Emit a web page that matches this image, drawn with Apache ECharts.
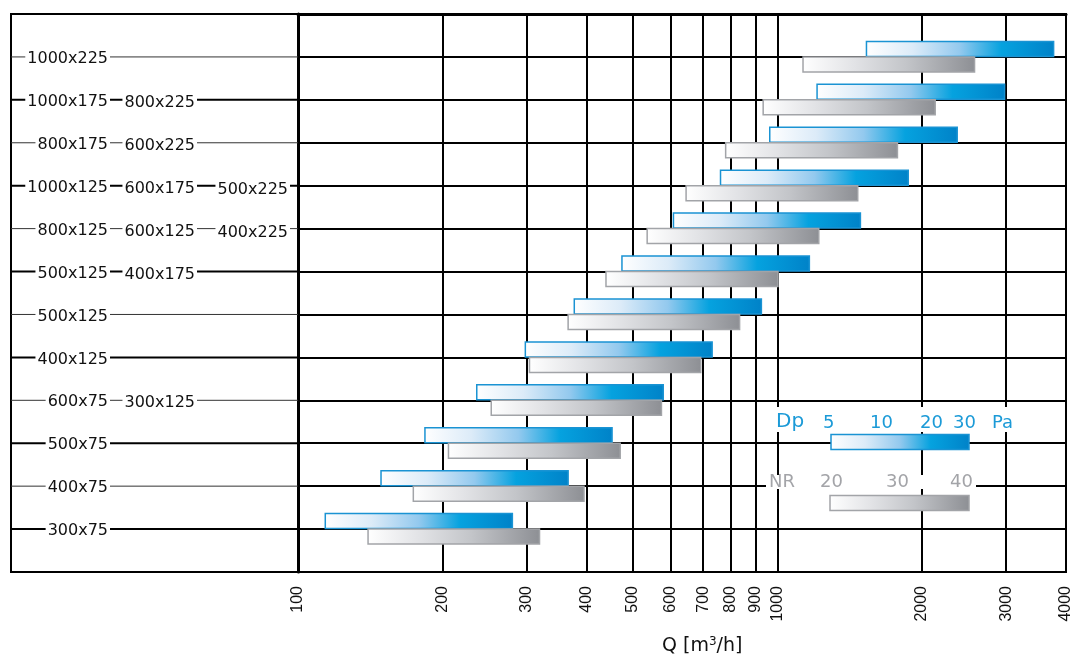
<!DOCTYPE html>
<html>
<head>
<meta charset="utf-8">
<script src="https://cdn.jsdelivr.net/npm/echarts@6/dist/echarts.min.js"></script>
<style>html,body{margin:0;padding:0;background:#fff;}#c{width:1075px;height:656px;}</style>
</head>
<body>
<div id="c"></div>
<script>
// ---- data ----
const rowLabels = [
  ['1000x225'],
  ['1000x175', '800x225'],
  ['800x175', '600x225'],
  ['1000x125', '600x175', '500x225'],
  ['800x125', '600x125', '400x225'],
  ['500x125', '400x175'],
  ['500x125'],
  ['400x125'],
  ['600x75', '300x125'],
  ['500x75'],
  ['400x75'],
  ['300x75']
];
const dpLow  = [1534, 1210, 964, 761, 607, 474, 377, 298, 236, 184, 149, 114];
const dpHigh = [3769, 2978, 2372, 1875, 1490, 1166, 926, 731, 578, 452, 366, 280];
const nrLow  = [1131, 934, 780, 645, 535, 439, 366, 304, 253, 206, 174, 140];
const nrHigh = [2578, 2134, 1780, 1471, 1220, 1003, 834, 692, 573, 470, 395, 319];
const xTicks = [100, 200, 300, 400, 500, 600, 700, 800, 900, 1000, 2000, 3000, 4000];
const dpLegendLabels = ['5', '10', '20', '30'];
const nrLegendLabels = ['20', '30', '40'];

// ---- styles / layout ----
const BAR_H = 15;
const blueFill = {type: 'linear', x: 0, y: 0, x2: 1, y2: 0, colorStops: [
  {offset: 0, color: '#ffffff'}, {offset: 0.25, color: '#dcebf8'}, {offset: 0.5, color: '#93c9ee'},
  {offset: 0.72, color: '#05a2df'}, {offset: 1, color: '#0082c8'}]};
const grayFill = {type: 'linear', x: 0, y: 0, x2: 1, y2: 0, colorStops: [
  {offset: 0, color: '#ffffff'}, {offset: 0.3, color: '#e2e3e6'}, {offset: 0.6, color: '#c3c5c9'},
  {offset: 1, color: '#8d8f94'}]};
const blueStroke = '#1a93d3';
const grayStroke = '#a2a4a8';
const blueText = '#1b9ad7';
const grayText = '#a3a4a8';
const LABEL_RIGHT = [99, 186, 279];
const LABEL_DY = [2, 3, 4];
const LABEL_FONT = '16px "DejaVu Sans"';

function barRender(isBlue) {
  return function (params, api) {
    const r = api.value(0);
    const p0 = api.coord([api.value(1), r]);
    const p1 = api.coord([api.value(2), r]);
    const y = isBlue ? p0[1] - BAR_H - 0.5 : p0[1];
    return {
      type: 'rect',
      shape: {x: p0[0], y: y, width: p1[0] - p0[0], height: BAR_H},
      style: {fill: isBlue ? blueFill : grayFill, stroke: isBlue ? blueStroke : grayStroke, lineWidth: 1.5}
    };
  };
}

const chart = echarts.init(document.getElementById('c'), null, {renderer: 'canvas'});
const option = {
  animation: false,
  backgroundColor: '#fff',
  grid: [
    {left: 298, top: 14, width: 768, height: 558, show: true, borderColor: '#000', borderWidth: 2, containLabel: false},
    {left: 11, top: 14, width: 287, height: 558, show: true, borderColor: '#000', borderWidth: 2, containLabel: false}
  ],
  xAxis: [
    {
      type: 'log', logBase: 10, min: 100, max: 4000, gridIndex: 0,
      axisLine: {show: true, lineStyle: {color: '#000', width: 3}},
      axisTick: {show: false, customValues: xTicks},
      axisLabel: {customValues: xTicks, rotate: 90, margin: 14, color: '#111',
        fontFamily: 'Liberation Sans', fontSize: 16, formatter: v => String(Math.round(v))},
      splitLine: {show: true, lineStyle: {color: '#000', width: 2}}
    },
    {type: 'value', min: 0, max: 287, gridIndex: 1, show: false}
  ],
  yAxis: [
    {
      type: 'value', min: 0, max: 13, interval: 1, inverse: true, gridIndex: 0,
      axisLine: {show: true, lineStyle: {color: '#000', width: 3}},
      axisTick: {show: false}, axisLabel: {show: false},
      splitLine: {show: true, lineStyle: {color: '#000', width: 2}}
    },
    {type: 'value', min: 0, max: 13, inverse: true, gridIndex: 1, show: false}
  ],
  graphic: [
    {type: 'text', left: 662, top: 636, z: 100, style: {
      text: 'Q [m{s|3}/h]', font: '19px "DejaVu Sans"', fill: '#111',
      rich: {s: {fontSize: 12, fontFamily: 'DejaVu Sans', verticalAlign: 'top', padding: [0, 0, 9, 0], fill: '#111'}}}},
    // legend backgrounds
    {type: 'rect', z: 100, shape: {x: 770, y: 407, width: 252, height: 25}, style: {fill: '#fff'}},
    {type: 'rect', z: 100, shape: {x: 766, y: 475, width: 210, height: 14}, style: {fill: '#fff'}},
    // legend bars
    {type: 'rect', z: 101, shape: {x: 831, y: 434.5, width: 138, height: 15}, style: {fill: blueFill, stroke: blueStroke, lineWidth: 1.5}},
    {type: 'rect', z: 101, shape: {x: 830, y: 495.5, width: 139, height: 15}, style: {fill: grayFill, stroke: grayStroke, lineWidth: 1.5}},
    // legend texts
    {type: 'text', z: 102, x: 776, y: 422, style: {text: 'Dp', font: '20px "DejaVu Sans"', fill: blueText, verticalAlign: 'middle'}},
    {type: 'text', z: 102, x: 823, y: 423, style: {text: dpLegendLabels[0], font: '18px "DejaVu Sans"', fill: blueText, verticalAlign: 'middle'}},
    {type: 'text', z: 102, x: 870, y: 423, style: {text: dpLegendLabels[1], font: '18px "DejaVu Sans"', fill: blueText, verticalAlign: 'middle'}},
    {type: 'text', z: 102, x: 920, y: 423, style: {text: dpLegendLabels[2], font: '18px "DejaVu Sans"', fill: blueText, verticalAlign: 'middle'}},
    {type: 'text', z: 102, x: 953, y: 423, style: {text: dpLegendLabels[3], font: '18px "DejaVu Sans"', fill: blueText, verticalAlign: 'middle'}},
    {type: 'text', z: 102, x: 992, y: 423, style: {text: 'Pa', font: '18px "DejaVu Sans"', fill: blueText, verticalAlign: 'middle'}},
    {type: 'text', z: 102, x: 769, y: 482, style: {text: 'NR', font: '18px "DejaVu Sans"', fill: grayText, verticalAlign: 'middle'}},
    {type: 'text', z: 102, x: 820, y: 482, style: {text: nrLegendLabels[0], font: '18px "DejaVu Sans"', fill: grayText, verticalAlign: 'middle'}},
    {type: 'text', z: 102, x: 886, y: 482, style: {text: nrLegendLabels[1], font: '18px "DejaVu Sans"', fill: grayText, verticalAlign: 'middle'}},
    {type: 'text', z: 102, x: 950, y: 482, style: {text: nrLegendLabels[2], font: '18px "DejaVu Sans"', fill: grayText, verticalAlign: 'middle'}}
  ],
  series: [
    {
      type: 'custom', name: 'Dp', xAxisIndex: 0, yAxisIndex: 0, z: 5,
      renderItem: barRender(true),
      encode: {x: [1, 2], y: 0},
      data: dpLow.map((v, i) => [i + 1, v, dpHigh[i]])
    },
    {
      type: 'custom', name: 'NR', xAxisIndex: 0, yAxisIndex: 0, z: 5,
      renderItem: barRender(false),
      encode: {x: [1, 2], y: 0},
      data: nrLow.map((v, i) => [i + 1, v, nrHigh[i]])
    },
    {
      type: 'custom', name: 'sizes', xAxisIndex: 1, yAxisIndex: 1, z: 5,
      renderItem: function (params, api) {
        const r = api.value(0);
        const idx = params.dataIndex;
        const a = api.coord([0, r]);
        const b = api.coord([287, r]);
        const thick = idx % 2 === 1;
        const children = [{
          type: 'line',
          shape: {x1: a[0], y1: a[1], x2: b[0], y2: b[1]},
          style: {stroke: thick ? '#000' : '#333', lineWidth: thick ? 2 : 1}
        }];
        rowLabels[idx].forEach(function (t, c) {
          const p = api.coord([LABEL_RIGHT[c], r]);
          children.push({
            type: 'text', x: p[0], y: p[1] + LABEL_DY[c],
            style: {text: t, align: 'right', verticalAlign: 'middle', font: LABEL_FONT, fill: '#111',
              backgroundColor: '#fff', padding: [0, 2]}
          });
        });
        return {type: 'group', children: children};
      },
      encode: {y: 0},
      data: rowLabels.map((_, i) => [i + 1])
    }
  ]
};
chart.setOption(option);
</script>
</body>
</html>
